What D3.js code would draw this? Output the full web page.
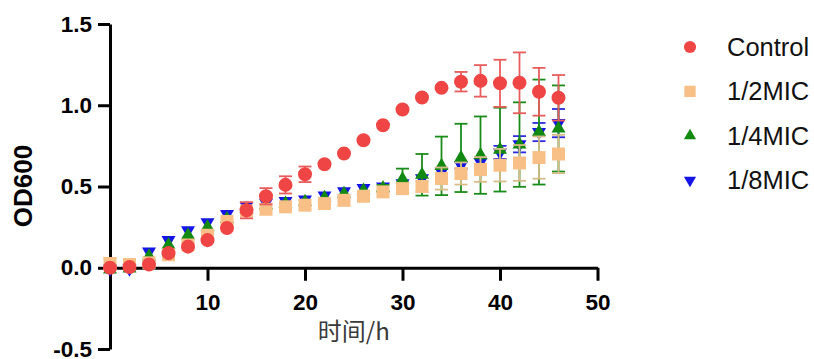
<!DOCTYPE html>
<html>
<head>
<meta charset="utf-8">
<script src="https://cdn.jsdelivr.net/npm/d3@7"></script>
<style>
  body { margin: 0; background: #fff; }
</style>
</head>
<body>
<div id="chart-area"></div>
<script>
// sampling times (h)
var times = [0, 2, 4, 6, 8, 10, 12, 14, 16, 18, 20, 22, 24, 26, 28, 30, 32, 34, 36, 38, 40, 42, 44, 46];

// OD600 means and error bars
var control    = [0.00, 0.005, 0.02, 0.09, 0.13, 0.17, 0.245, 0.354, 0.44, 0.51, 0.575, 0.637, 0.703, 0.785, 0.877, 0.974, 1.048, 1.107, 1.145, 1.15, 1.135, 1.138, 1.083, 1.046];
var controlErr = [0, 0, 0, 0, 0, 0, 0, 0.05, 0.05, 0.053, 0.048, 0, 0, 0, 0, 0, 0, 0, 0.06, 0.097, 0.145, 0.187, 0.147, 0.14];

var half    = [0.025, 0.02, 0.03, 0.08, 0.14, 0.20, 0.285, 0.35, 0.36, 0.375, 0.385, 0.395, 0.415, 0.44, 0.467, 0.487, 0.50, 0.549, 0.58, 0.605, 0.631, 0.645, 0.678, 0.70];
var halfErr = [0.035, 0.03, 0, 0, 0, 0, 0, 0, 0, 0, 0, 0, 0, 0, 0, 0.02, 0.033, 0.068, 0.068, 0.076, 0.10, 0.11, 0.13, 0.118];

var quarter    = [-0.01, -0.005, 0.07, 0.14, 0.20, 0.25, 0.30, 0.36, 0.385, 0.395, 0.405, 0.43, 0.455, 0.475, 0.49, 0.545, 0.572, 0.627, 0.676, 0.693, 0.727, 0.758, 0.835, 0.857];
var quarterErr = [0, 0, 0, 0, 0, 0, 0, 0, 0, 0, 0, 0, 0, 0, 0.02, 0.065, 0.128, 0.18, 0.21, 0.238, 0.258, 0.26, 0.323, 0.265];

var eighth    = [-0.005, -0.005, 0.10, 0.17, 0.23, 0.28, 0.33, 0.38, 0.40, 0.41, 0.42, 0.445, 0.47, 0.49, 0.50, 0.52, 0.55, 0.59, 0.63, 0.65, 0.71, 0.76, 0.835, 0.89];
var eighthErr = [0, 0, 0, 0, 0, 0, 0, 0, 0, 0, 0, 0, 0, 0, 0, 0, 0, 0, 0.02, 0.03, 0.04, 0.05, 0.056, 0.087];

var seriesNames = ["Control", "1/2MIC", "1/4MIC", "1/8MIC"];
var xTicks = [10, 20, 30, 40, 50];
var yTicks = [-0.5, 0, 0.5, 1.0, 1.5];

var margin = { left: 110, right: 216, top: 24, bottom: 10 };
var width = 487.5;
var height = 325;

var svg = d3.select("#chart-area")
  .append("svg")
    .attr("width", 814)
    .attr("height", 359)
    .style("display", "block");

var g = svg.append("g")
  .attr("transform", "translate(" + margin.left + "," + margin.top + ")");

var x = d3.scaleLinear().domain([0, 50]).range([0, width]);
var y = d3.scaleLinear().domain([-0.5, 1.5]).range([height, 0]);

// series table, drawn back to front (1/8MIC at the bottom, Control on top)
var series = [
  { name: seriesNames[3], vals: eighth,  errs: eighthErr,  fill: "#1414e6", bar: "#2a2ae0", sym: "down" },
  { name: seriesNames[2], vals: quarter, errs: quarterErr, fill: "#128a12", bar: "#1a8c1a", sym: "up" },
  { name: seriesNames[1], vals: half,    errs: halfErr,    fill: "#f8bf86", bar: "#d6bd88", sym: "square" },
  { name: seriesNames[0], vals: control, errs: controlErr, fill: "#f04545", bar: "#e85c5c", sym: "circle" }
];

function symbolPath(type, scale) {
  scale = scale || 1;
  if (type == "circle") return d3.symbol().type(d3.symbolCircle).size(154 * scale * scale)();
  if (type == "square") return d3.symbol().type(d3.symbolSquare).size(169 * scale * scale)();
  return d3.symbol().type(d3.symbolTriangle).size(85 * scale * scale)();
}

// axes
var xAxisGroup = g.append("g")
  .attr("class", "x-axis")
  .attr("transform", "translate(0," + y(0) + ")")
  .call(d3.axisBottom(x).tickValues(xTicks).tickSize(13).tickSizeOuter(0).tickPadding(13));

var yAxisGroup = g.append("g")
  .attr("class", "y-axis")
  .call(d3.axisLeft(y).tickValues(yTicks).tickSize(12).tickSizeOuter(0).tickPadding(6)
    .tickFormat(function(d) { return d.toFixed(1); }));

g.selectAll(".x-axis path, .y-axis path, .x-axis line, .y-axis line")
  .attr("stroke", "#000")
  .attr("stroke-width", 3);
g.selectAll(".x-axis text, .y-axis text")
  .attr("fill", "#000")
  .attr("font-family", "Liberation Sans, Arial, sans-serif")
  .attr("font-weight", "bold")
  .attr("font-size", "22.5px");

// points + error bars
series.forEach(function(s) {
  var sg = g.append("g");
  var pts = times.map(function(t, i) { return { t: t, v: s.vals[i], e: s.errs[i] }; });
  var withErr = pts.filter(function(d) { return d.e > 0; });

  sg.selectAll(".bar").data(withErr).enter().append("line")
    .attr("x1", function(d) { return x(d.t); })
    .attr("x2", function(d) { return x(d.t); })
    .attr("y1", function(d) { return y(d.v - d.e); })
    .attr("y2", function(d) { return y(d.v + d.e); })
    .attr("stroke", s.bar).attr("stroke-width", 1.8);

  [-1, 1].forEach(function(sign) {
    sg.selectAll(".cap" + sign).data(withErr).enter().append("line")
      .attr("x1", function(d) { return x(d.t) - 6.5; })
      .attr("x2", function(d) { return x(d.t) + 6.5; })
      .attr("y1", function(d) { return y(d.v + sign * d.e); })
      .attr("y2", function(d) { return y(d.v + sign * d.e); })
      .attr("stroke", s.bar).attr("stroke-width", 1.8);
  });

  sg.selectAll(".pt").data(pts).enter().append("path")
    .attr("d", symbolPath(s.sym))
    .attr("transform", function(d) {
      return "translate(" + x(d.t) + "," + y(d.v) + ")" + (s.sym == "down" ? " rotate(180)" : "");
    })
    .attr("fill", s.fill);
});

// axis labels
svg.append("text")
  .attr("transform", "translate(31.5,186) rotate(-90)")
  .attr("text-anchor", "middle")
  .attr("font-family", "Liberation Sans, Arial, sans-serif")
  .attr("font-weight", "bold")
  .attr("font-size", "26px")
  .text("OD600");

svg.append("text")
  .attr("x", margin.left + width / 2)
  .attr("y", 340)
  .attr("text-anchor", "middle")
  .attr("font-family", "Noto Sans CJK SC, sans-serif")
  .attr("font-size", "24px")
  .attr("fill", "#3a3a3a")
  .text("时间/h");

// legend
var legendRows = [0, 1, 2, 3].map(function(i) {
  var s = series[3 - i];
  return { name: s.name, fill: s.fill, sym: s.sym, cy: 47 + i * 44.4 };
});
var legend = svg.append("g").attr("class", "legend");
legend.selectAll("path").data(legendRows).enter().append("path")
  .attr("d", function(d) { return symbolPath(d.sym, 0.87); })
  .attr("transform", function(d) {
    return "translate(690," + d.cy + ")" + (d.sym == "down" ? " rotate(180)" : "");
  })
  .attr("fill", function(d) { return d.fill; });
legend.selectAll("text").data(legendRows).enter().append("text")
  .attr("x", 727)
  .attr("y", function(d) { return d.cy + 9; })
  .attr("font-family", "Liberation Sans, Arial, sans-serif")
  .attr("font-size", "25.5px")
  .attr("fill", "#111")
  .text(function(d) { return d.name; });
</script>
</body>
</html>
